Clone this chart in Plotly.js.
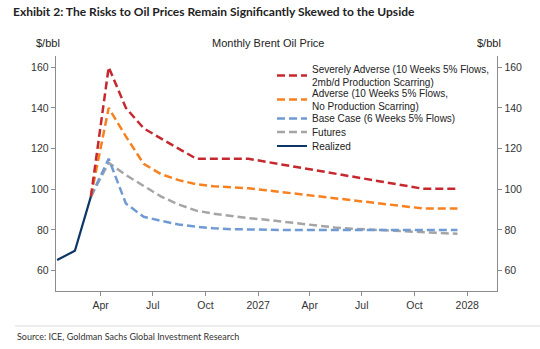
<!DOCTYPE html>
<html>
<head>
<meta charset="utf-8">
<script src="https://cdn.plot.ly/plotly-3.0.1.min.js"></script>
<style>
  html, body { margin: 0; padding: 0; background: #fff; }
  #chart { width: 540px; height: 349px; }
</style>
</head>
<body>
<div id="chart"></div>
<script>
// ---- data ----
const realizedDates = ['2026-01-15', '2026-02-15', '2026-03-15'];
const realizedValues = [65.2, 69.8, 96.5];

const scenarioDates = [
  '2026-03-15', '2026-04-15', '2026-05-15', '2026-06-15', '2026-07-15', '2026-08-15',
  '2026-09-15', '2026-10-15', '2026-11-15', '2026-12-15',
  '2027-01-15', '2027-02-15', '2027-03-15', '2027-04-15', '2027-05-15', '2027-06-15',
  '2027-07-15', '2027-08-15', '2027-09-15', '2027-10-15', '2027-11-15', '2027-12-15'
];
const severelyAdverse = [96.5, 160, 140, 130, 125, 120, 115, 115, 115, 115,
  113.5, 112, 110.5, 109, 107.5, 106, 104.5, 103, 101.5, 100.3, 100.3, 100.3];
const adverse = [96.5, 140, 126, 112.5, 107.5, 104.5, 102.5, 101.5, 101, 100.5,
  99.5, 98.5, 97.5, 96.5, 95.5, 94.5, 93.5, 92.5, 91.5, 90.6, 90.6, 90.6];
const baseCase = [96.5, 115, 93, 86.5, 84.5, 82.7, 81.6, 80.8, 80.4, 80.2,
  80, 80, 80, 80, 80, 80, 80, 80, 80, 80, 80, 80];
const futures = [96.5, 113, 107, 101.5, 96.5, 92.5, 89.5, 88, 86.8, 85.8,
  85, 84, 83, 82, 81.2, 80.6, 80.2, 79.8, 79.3, 78.9, 78.5, 78.1];

const seriesNames = [
  'Severely Adverse (10 Weeks 5% Flows,<br>2mb/d Production Scarring)',
  'Adverse (10 Weeks 5% Flows,<br>No Production Scarring)',
  'Base Case (6 Weeks 5% Flows)',
  'Futures',
  'Realized'
];

const xTickVals = ['2026-04-01', '2026-07-01', '2026-10-01', '2027-01-01',
  '2027-04-01', '2027-07-01', '2027-10-01', '2028-01-01'];
const xTickText = ['Apr', 'Jul', 'Oct', '2027', 'Apr', 'Jul', 'Oct', '2028'];
const yTickVals = [60, 80, 100, 120, 140, 160];

// ---- styling ----
const FONT = 'Liberation Sans, Arial, sans-serif';
const colors = ['#c5282e', '#f7801f', '#6f9ad3', '#a5a5a5', '#0c3764'];
const DASH = '8px,4px';

const traces = [
  {x: scenarioDates, y: severelyAdverse, name: seriesNames[0], legend: 'legend'},
  {x: scenarioDates, y: adverse, name: seriesNames[1], legend: 'legend2'},
  {x: scenarioDates, y: baseCase, name: seriesNames[2], legend: 'legend3'},
  {x: scenarioDates, y: futures, name: seriesNames[3], legend: 'legend4'},
  {x: realizedDates, y: realizedValues, name: seriesNames[4], legend: 'legend5'}
].map((t, i) => Object.assign(t, {
  type: 'scatter', mode: 'lines',
  line: {color: colors[i], width: i === 4 ? 2.2 : 2.5, dash: i === 4 ? 'solid' : DASH},
  hoverinfo: 'skip'
}));
// draw order: futures/base under adverse under severe; realized on top
const ordered = [traces[3], traces[2], traces[1], traces[0], traces[4]];

// plot area geometry (px)
const L = 56, R = 43, T = 56, B = 58, W = 540, H = 349;
const pw = W - L - R, ph = H - T - B;
const px = v => (v - L) / pw;
const py = v => (H - B - v) / ph;

function leg(yPix) {
  return {
    x: px(272), y: py(yPix), xanchor: 'left', yanchor: 'middle',
    bgcolor: 'rgba(0,0,0,0)', borderwidth: 0,
    font: {family: FONT, size: 10, color: '#222'},
    itemclick: false, itemdoubleclick: false
  };
}

const axisCommon = {
  showline: true, linecolor: '#8c8c8c', linewidth: 1.3,
  ticks: 'outside', ticklen: 4, tickcolor: '#8c8c8c', tickwidth: 1,
  showgrid: false, zeroline: false,
  tickfont: {family: FONT, size: 10.5, color: '#333'}
};

const layout = {
  width: W, height: H,
  margin: {l: L, r: R, t: T, b: B},
  paper_bgcolor: '#fff', plot_bgcolor: '#fff',
  title: {
    text: 'Exhibit 2: The Risks to Oil Prices Remain Significantly Skewed to the Upside',
    font: {family: 'Lato, sans-serif', size: 12, color: '#222', weight: 700},
    x: 13 / W, xanchor: 'left', xref: 'container',
    y: 1 - 12 / H, yanchor: 'middle', yref: 'container'
  },
  xaxis: Object.assign({}, axisCommon, {
    type: 'date', range: ['2026-01-13', '2028-02-22'],
    tickvals: xTickVals, ticktext: xTickText
  }),
  yaxis: Object.assign({}, axisCommon, {
    range: [50, 165.5], tickvals: yTickVals
  }),
  yaxis2: Object.assign({}, axisCommon, {
    range: [50, 165.5], tickvals: yTickVals, overlaying: 'y', side: 'right', matches: 'y'
  }),
  legend: leg(75.5),
  legend2: leg(99.5),
  legend3: leg(118.5),
  legend4: leg(132),
  legend5: leg(146),
  annotations: [
    {text: '$/bbl', x: 47.5 / W, y: 1 - 43 / H, xref: 'paper', yref: 'paper'},
    {text: 'Monthly Brent Oil Price', x: 268 / W, y: 1 - 43 / H},
    {text: '$/bbl', x: 489 / W, y: 1 - 43 / H},
    {text: 'Source: ICE, Goldman Sachs Global Investment Research', x: 15 / W, y: 1 - 336 / H,
     xanchor: 'left', font: {family: 'Lato, sans-serif', size: 9, color: '#333'}}
  ].map(a => Object.assign({
    xref: 'paper', yref: 'paper', showarrow: false, xanchor: 'center', yanchor: 'middle',
    font: {family: FONT, size: 11, color: '#222'}
  }, a, {
    // convert container fractions to paper coordinates
    x: ((a.x * W) - L) / pw, y: (H - (1 - a.y) * H - B) / ph
  })),
  shapes: [
    {type: 'line', xref: 'paper', yref: 'paper',
     x0: (15 - L) / pw, x1: (540 - L) / pw, y0: (H - B - 326) / ph, y1: (H - B - 326) / ph,
     line: {color: '#dcdcdc', width: 1}}
  ],
  showlegend: true
};

// the yaxis2 needs a trace to display; attach a hidden one
const dummy = {x: [scenarioDates[0]], y: [null], yaxis: 'y2', showlegend: false,
  type: 'scatter', mode: 'lines', hoverinfo: 'skip'};

Plotly.newPlot('chart', ordered.concat([dummy]), layout, {displayModeBar: false, staticPlot: true});
</script>
</body>
</html>
